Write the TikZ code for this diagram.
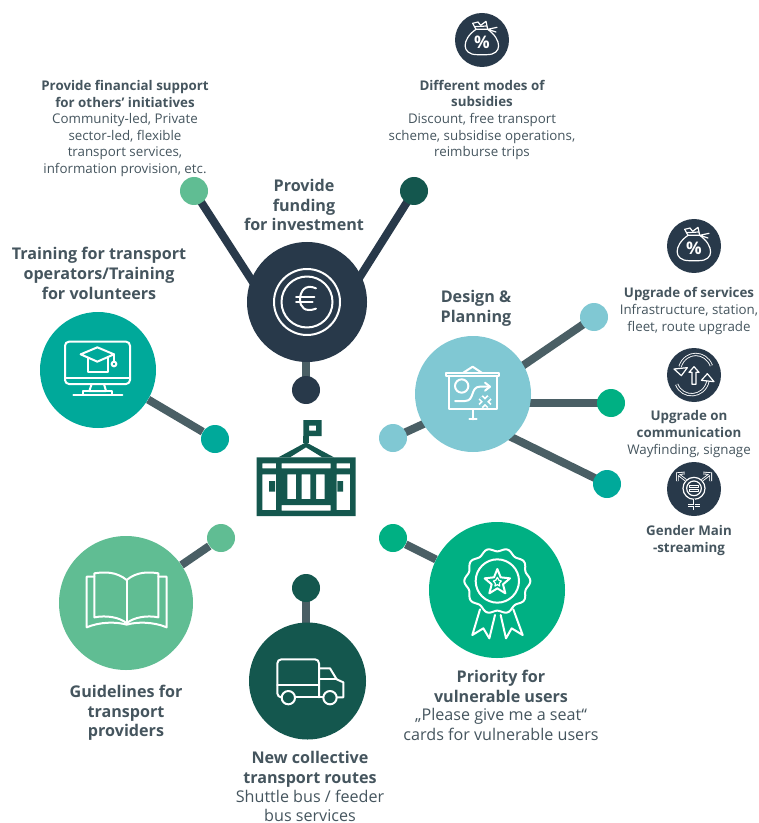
\documentclass[tikz,border=0pt]{standalone}
\usepackage{fontspec}
\setmainfont{Open Sans}
\usetikzlibrary{backgrounds}
\definecolor{navy}{HTML}{28394A}
\definecolor{tealc}{HTML}{00A99A}
\definecolor{skyc}{HTML}{80C8D3}
\definecolor{greenc}{HTML}{00B083}
\definecolor{leafc}{HTML}{60BD93}
\definecolor{pine}{HTML}{14574E}
\definecolor{linkc}{HTML}{4A5F65}
\definecolor{textc}{HTML}{45555E}
\newcommand{\hd}[1]{{\bfseries #1}}
\tikzset{
  big/.style={circle,inner sep=0pt,minimum size=#1*0.75pt},
  dot/.style={circle,inner sep=0pt,minimum size=28*0.75pt},
  sicon/.style={circle,inner sep=0pt,minimum size=54*0.75pt,fill=navy},
  link/.style={linkc,line width=6pt},
  linkdark/.style={navy,line width=6pt},
  ic/.style={white,line width=1.5pt,line join=round,line cap=round},
  icthin/.style={white,line width=0.9pt,line join=round,line cap=round},
  big label/.style={text=textc,align=center,font=\fontsize{12.1}{14.7}\selectfont\bfseries},
  small label/.style={text=textc,align=center,font=\fontsize{10}{12.4}\selectfont},
  moneybag/.pic={
    \begin{scope}[scale=1/3]
      \draw[icthin] (-18,-32) .. controls (-62,-2) and (-62,44) .. (-15,44) -- (15,44) .. controls (62,44) and (60,-2) .. (17,-32) -- cycle;
      \draw[icthin] (-18,-32) -- (-28,-50) -- (-12,-54) -- (-4,-44) -- (12,-56) -- (17,-32);
      \draw[icthin] (-22,-40) -- (14,-42);
      \draw[icthin] (17,-32) -- (45,-38) (17,-32) -- (42,-24);
      \node[white,font=\fontsize{13}{13}\selectfont\bfseries] at (0,8) {\%};
    \end{scope}
  },
  gendericon/.pic={
    \begin{scope}[scale=1/3]
      \draw[icthin] (0,-2) circle (33);
      \draw[icthin] (0,-2) circle (22);
      \draw[icthin] (-13,-10) rectangle (13,-4);
      \draw[icthin] (-13,1) rectangle (13,7);
      \draw[white,line width=2pt] (0,31) -- (0,64) (-17,50) -- (17,50);
      \draw[navy,line width=0.7pt] (0,31) -- (0,64) (-17,50) -- (17,50);
      \draw[white,line width=2pt] (24,-26) -- (50,-46) (28,-48) -- (50,-46) -- (50,-24);
      \draw[navy,line width=0.7pt] (24,-26) -- (50,-46) (28,-48) -- (50,-46) -- (50,-24);
      \draw[white,line width=2pt] (-24,-26) -- (-50,-46) (-28,-48) -- (-50,-46) -- (-50,-24);
      \draw[navy,line width=0.7pt] (-24,-26) -- (-50,-46) (-28,-48) -- (-50,-46) -- (-50,-24);
    \end{scope}
  },
}
\begin{document}
\begin{tikzpicture}[x=0.75pt,y=-0.75pt]
\useasboundingbox (0,0) rectangle (758,823);
% large circles
\node[big=120,fill=navy] (fund) at (307,302) {};
\node[big=116,fill=tealc] (train) at (98,370) {};
\node[big=116,fill=skyc] (design) at (473,394) {};
\node[big=136,fill=greenc] (prio) at (497,590) {};
\node[big=134,fill=leafc] (guide) at (126,603) {};
\node[big=117,fill=pine] (route) at (307.5,681) {};
% small dots
\node[dot,fill=leafc] (d1) at (194,191) {};
\node[dot,fill=pine] (d2) at (414,191) {};
\node[dot,fill=navy] (d3) at (306,390) {};
\node[dot,fill=skyc] (d4) at (594,317) {};
\node[dot,fill=greenc] (d5) at (611,403) {};
\node[dot,fill=tealc] (d6) at (607,484) {};
\node[dot,fill=skyc] (d7) at (393,438) {};
\node[dot,fill=tealc] (d8) at (215,439) {};
\node[dot,fill=leafc] (d9) at (221,538) {};
\node[dot,fill=pine] (d10) at (306,588) {};
\node[dot,fill=greenc] (d11) at (393,538) {};
% hidden ends of the connectors, inside the big circles
\coordinate (f1) at (258,290);
\coordinate (f2) at (356,283);
\coordinate (f3) at (306,345);
\coordinate (g4) at (515,371);
\coordinate (g5) at (520,403);
\coordinate (g6) at (505,434);
\coordinate (g7) at (430,421);
\coordinate (r1) at (306,640);
% connectors
\begin{pgfonlayer}{background}
\draw[linkdark] (f1) -- (d1.center);
\draw[linkdark] (f2) -- (d2.center);
\draw[link] (f3) -- (d3.center);
\draw[link] (g4) -- (d4.center);
\draw[link] (g5) -- (g5 -| d5);
\draw[link] (g6) -- (d6.center);
\draw[link] (g7) -- (d7.center);
\draw[link] (train) -- (d8);
\draw[link] (guide) -- (d9);
\draw[link] (r1) -- (d10.center);
\draw[link] (prio) -- (d11);
\end{pgfonlayer}
% small icons
\node[sicon] (s1) at (482,40) {};
\node[sicon] (s2) at (694,246) {};
\node[sicon] (s3) at (694,375) {};
\node[sicon] (s4) at (694,489) {};
\pic at (s1.center) {moneybag};
\pic at (s2.center) {moneybag};
\pic at (s4.center) {gendericon};
% cycle icon
\begin{scope}[shift={(664,345)},scale=1/3]
\draw[white,line width=2.4pt] (142,62) .. controls (125,18) and (65,15) .. (48,65);
\draw[navy,line width=1.1pt] (142,62) .. controls (125,18) and (65,15) .. (48,65);
\draw[white,line width=2.4pt] (38,118) .. controls (55,162) and (120,160) .. (132,108);
\draw[navy,line width=1.1pt] (38,118) .. controls (55,162) and (120,160) .. (132,108);
\draw[icthin,fill=navy] (52,92) -- (30,72) -- (70,68) -- cycle;
\draw[icthin,fill=navy] (130,86) -- (112,106) -- (150,110) -- cycle;
\draw[icthin] (84,118) -- (84,82) -- (75,82) -- (90,65) -- (105,82) -- (96,82) -- (96,118) -- cycle;
\end{scope}
% euro
\draw[ic] (fund.center) circle (33);
\draw[ic] (fund.center) circle (25.5);
\begin{scope}[shift={(220,230)},scale=1/3]
\draw[ic] (288,175) .. controls (255,160) and (240,185) .. (240,208) .. controls (240,232) and (255,248) .. (288,236);
\draw[ic] (228,200) -- (283,200) (228,216) -- (278,216);
\end{scope}
% monitor
\begin{scope}[shift={(40,310)},scale=1/3]
\draw[ic,rounded corners=3pt] (75,95) rectangle (270,222);
\draw[ic] (75,205) -- (270,205);
\draw[ic] (155,222) -- (148,243) -- (198,243) -- (192,222);
\draw[ic] (130,253) -- (130,243) -- (215,243) -- (215,253);
\draw[ic] (100,254) -- (247,254);
\draw[ic] (122,133) -- (172,112) -- (222,133) -- (172,155) -- cycle;
\draw[ic] (145,143) -- (145,185) -- (205,185) -- (205,143);
\draw[ic] (222,133) -- (222,155);
\draw[ic] (222,162) circle (7);
\end{scope}
% board
\begin{scope}[shift={(410,330)},scale=1/3]
\draw[ic] (108,128) rectangle (268,138);
\draw[ic] (160,128) -- (188,110) -- (215,128);
\draw[ic] (118,138) -- (118,238) -- (260,238) -- (260,138);
\draw[ic] (188,238) -- (188,268) (178,268) -- (200,268);
\draw[ic] (155,168) circle (20);
\draw[ic] (135,213) -- (165,213) .. controls (195,213) and (180,170) .. (210,170) -- (240,170);
\draw[ic] (225,158) -- (240,170) -- (225,182);
\draw[white,line width=4.6pt] (212,202) -- (238,228) (238,202) -- (212,228);
\draw[skyc,line width=2pt] (212,202) -- (238,228) (238,202) -- (212,228);
\end{scope}
% medal
\begin{scope}[shift={(430,520)},scale=1/3]
\draw[ic] plot[domain=0:360,samples=120,smooth] ({202+(94+5*cos(10*\x))*cos(\x)},{183+(94+5*cos(10*\x))*sin(\x)}) -- cycle;
\draw[ic] (202,183) circle (65);
\draw[ic] (202,147) -- (212,172) -- (240,175) -- (219,193) -- (226,220) -- (202,205) -- (178,220) -- (185,193) -- (164,175) -- (192,172) -- cycle;
\draw[icthin] (202,172) -- (207,181) -- (214,183) -- (208,190) -- (209,198) -- (202,194) -- (195,198) -- (196,190) -- (190,183) -- (197,181) -- cycle;
\draw[ic] (150,268) -- (127,345) -- (160,325) -- (178,355) -- (195,285);
\draw[ic] (212,285) -- (228,355) -- (245,325) -- (278,345) -- (250,268);
\end{scope}
% book
\begin{scope}[shift={(50,530)},scale=1/3]
\draw[ic] (230,150) .. controls (200,125) and (165,125) .. (133,130) -- (133,262) .. controls (170,255) and (210,262) .. (230,280) .. controls (250,262) and (290,255) .. (325,262) -- (325,130) .. controls (295,125) and (260,125) .. (230,150) -- cycle;
\draw[ic] (230,150) -- (230,280);
\draw[ic] (133,140) -- (110,140) -- (110,292) .. controls (150,275) and (200,275) .. (230,284) .. controls (260,275) and (310,275) .. (350,292) -- (350,140) -- (325,140);
\end{scope}
% truck
\begin{scope}[shift={(245,620)},scale=1/3]
\draw[ic,rounded corners=3pt] (108,232) -- (97,232) -- (97,118) -- (222,118) -- (222,232);
\draw[ic] (97,195) -- (222,195);
\draw[ic] (150,232) -- (235,232);
\draw[ic] (222,145) -- (255,145) -- (275,178) -- (295,187) -- (295,232) -- (275,232);
\draw[ic] (222,178) -- (275,178);
\draw[ic] (130,233) circle (20);
\draw[ic] (255,233) circle (20);
\end{scope}
% building
\begin{scope}[shift={(240,410)},scale=1/3]
\fill[pine,even odd rule] (50,142) rectangle (347,318)
 (67,160) rectangle (108,175) (125,160) rectangle (272,175) (290,160) rectangle (330,175)
 (67,193) rectangle (108,300) (125,285) rectangle (272,302) (290,193) rectangle (330,300)
 (142,193) rectangle (168,267) (185,193) rectangle (211,267) (228,193) rectangle (254,267);
\fill[pine] (87,213) rectangle (105,245) (292,213) rectangle (309,245);
\fill[pine,even odd rule] (115,142) -- (198,97) -- (282,142) -- cycle (150,142) -- (198,112) -- (247,142) -- cycle;
\fill[pine,even odd rule] (190,30) rectangle (245,78) (207,47) rectangle (228,62);
\fill[pine] (190,78) rectangle (207,100);
\end{scope}
% labels
\node[small label] (t1) at (125,128.5) {\hd{Provide financial support}\\\hd{for others’ initiatives}\\Community-led, Private\\sector-led, flexible\\transport services,\\information provision, etc.};
\node[small label] (t2) at (482,120) {\hd{Different modes of}\\\hd{subsidies}\\Discount, free transport\\scheme, subsidise operations,\\reimburse trips};
\node[big label] (t3) at (304,205) {Provide\\funding\\for investment};
\node[big label] (t4) at (99,273.5) {Training for transport\\operators/Training\\for volunteers};
\node[big label] (t5) at (476,308.5) {Design \&\\Planning};
\node[small label] (t6) at (689,311) {\hd{Upgrade of services}\\Infrastructure, station,\\fleet, route upgrade};
\node[small label] (t7) at (689,434) {\hd{Upgrade on}\\\hd{communication}\\Wayfinding, signage};
\node[small label] (t8) at (689,540.5) {\hd{Gender Main}\\\hd{-streaming}};
\node[big label] (t9) at (126,713) {Guidelines for\\transport\\providers};
\node[big label] (t10) at (310,786.5) {New collective\\transport routes\\[-0.5pt]{\mdseries Shuttle bus / feeder}\\{\mdseries bus services}};
\node[big label] (t11) at (501,705.5) {Priority for\\vulnerable users\\[-1pt]{\mdseries „Please give me a seat“}\\{\mdseries cards for vulnerable users}};
\end{tikzpicture}
\end{document}
